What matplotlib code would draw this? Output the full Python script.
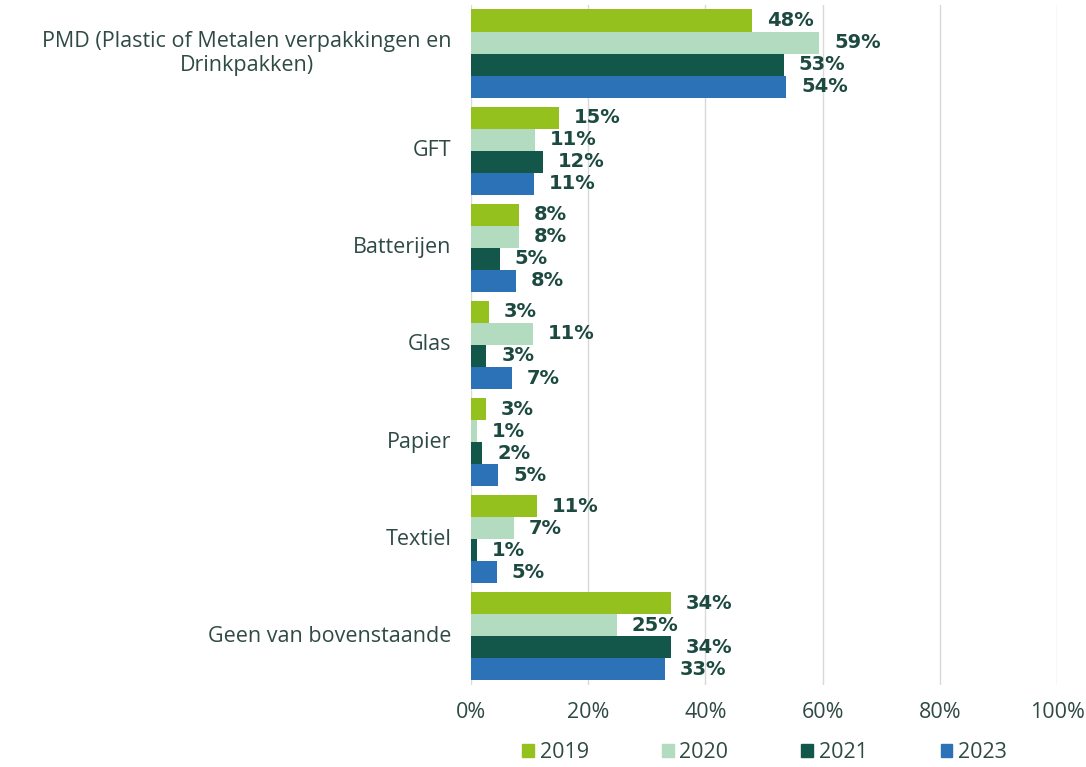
import numpy as np
import matplotlib.pyplot as plt
from matplotlib.patches import Patch

categories = ["PMD (Plastic of Metalen verpakkingen en\nDrinkpakken)", "GFT", "Batterijen",
              "Glas", "Papier", "Textiel", "Geen van bovenstaande"]
years = ["2019", "2020", "2021", "2023"]
v2019 = [47.9, 15.0, 8.2, 3.1, 2.5, 11.3, 34.1]
v2020 = [59.4, 10.9, 8.2, 10.6, 1.0, 7.3, 24.9]
v2021 = [53.4, 12.3, 4.9, 2.6, 1.9, 1.0, 34.1]
v2023 = [53.8, 10.8, 7.7, 7.0, 4.6, 4.4, 33.1]
labels2019 = ["48%", "15%", "8%", "3%", "3%", "11%", "34%"]
labels2020 = ["59%", "11%", "8%", "11%", "1%", "7%", "25%"]
labels2021 = ["53%", "12%", "5%", "3%", "2%", "1%", "34%"]
labels2023 = ["54%", "11%", "8%", "7%", "5%", "5%", "33%"]

series = [v2019, v2020, v2021, v2023]
series_labels = [labels2019, labels2020, labels2021, labels2023]
colors = ["#95c11f", "#b2dbbf", "#13574a", "#2b73b6"]
text_color = "#2f4a44"
label_color = "#1d4a40"

plt.rcParams['font.family'] = ['Open Sans', 'DejaVu Sans']

fig = plt.figure(figsize=(10.86, 7.67), dpi=100)
ax = fig.add_axes([0.4337, 0.107, 0.5396, 0.8865])

y = np.arange(len(categories))
h = 0.227
for i, (vals, labs) in enumerate(zip(series, series_labels)):
    pos = y + (i - 1.5) * h
    ax.barh(pos, vals, height=h, color=colors[i], zorder=2)
    for p, v, t in zip(pos, vals, labs):
        ax.annotate(t, (v, p), xytext=(15, 0), textcoords='offset pixels',
                    va='center', ha='left', fontsize=14, fontweight='bold',
                    color=label_color, family='DejaVu Sans')

ax.set_ylim(6.5, -0.5)
ax.set_xlim(0, 100)
ax.set_xticks(np.arange(0, 101, 20))
ax.set_xticklabels([f"{t}%" for t in range(0, 101, 20)])
ax.set_yticks(y)
ax.set_yticklabels(categories, ha='right', va='center', multialignment='center',
                   linespacing=1.15)
ax.tick_params(axis='both', length=0, labelsize=15.5, colors=text_color)
ax.tick_params(axis='x', pad=12)
ax.tick_params(axis='y', pad=14)
ax.grid(axis='x', color='#d9d9d9', linewidth=1, zorder=0)
for s in ax.spines.values():
    s.set_visible(False)

handles = [Patch(color=c) for c in colors]
fig.legend(handles, years, loc='center', bbox_to_anchor=(0.704, 0.019), ncol=4,
           frameon=False, fontsize=15.5, labelcolor=text_color, handlelength=0.55,
           handleheight=0.55, handletextpad=0.25, columnspacing=3.4)

fig.savefig("out.png", dpi=100)
